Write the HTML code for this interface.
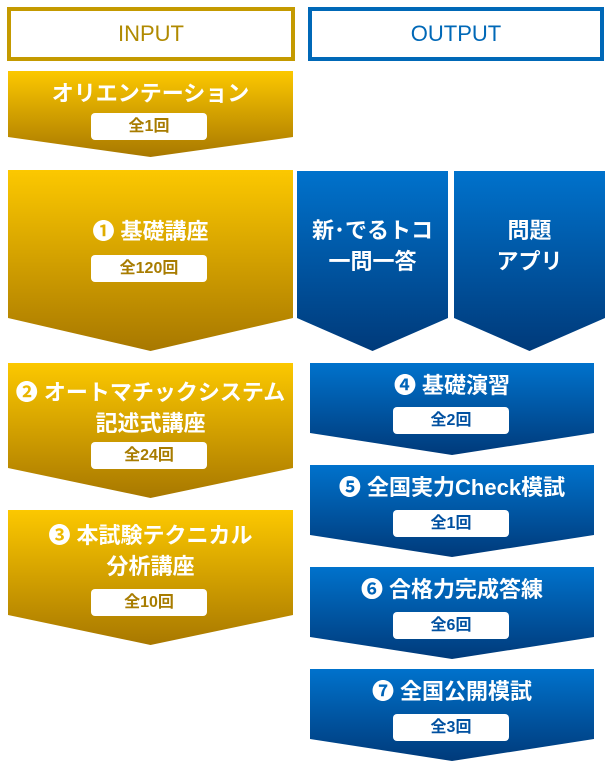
<!DOCTYPE html>
<html><head><meta charset="utf-8"><style>
body{margin:0;width:610px;height:765px;background:#fff;position:relative;overflow:hidden;font-family:"Liberation Sans","Noto Sans CJK JP",sans-serif}
.h{position:absolute;box-sizing:border-box;border:4px solid;height:54px;top:7px;text-align:center;line-height:46px;font-size:22px;background:#fff}
.s{position:absolute}
.g{background:linear-gradient(#fcc800,#a87800)}
.b{background:linear-gradient(#0072cc,#003a7a)}
.t{position:absolute;left:0;right:0;text-align:center;color:#fff;font-weight:bold;font-size:22px;line-height:34px}
.m{line-height:31px}
.p{position:absolute;background:#fff;border-radius:4px;height:27px;width:116px;text-align:center;line-height:27px;font-weight:bold;font-size:16px}
.gp{color:#a87c00}.bp{color:#0050a0}
</style></head><body>
<div class="h" style="left:7px;width:288px;border-color:#c49a00;color:#b08a00">INPUT</div>
<div class="h" style="left:308px;width:296px;border-color:#0068b7;color:#0068b7">OUTPUT</div>

<div class="s g" style="left:8px;top:71px;width:285px;height:86px;clip-path:polygon(0 0,100% 0,100% 66px,50% 100%,0 66px)"><div class="t" style="top:6px">オリエンテーション</div><div class="p gp" style="left:83px;top:42px">全1回</div></div>

<div class="s g" style="left:8px;top:170px;width:285px;height:181px;clip-path:polygon(0 0,100% 0,100% 148px,50% 100%,0 148px)"><div class="t" style="top:45px">❶ 基礎講座</div><div class="p gp" style="left:83px;top:85px">全120回</div></div>

<div class="s g" style="left:8px;top:363px;width:285px;height:135px;clip-path:polygon(0 0,100% 0,100% 105px,50% 100%,0 105px)"><div class="t m" style="top:14px">❷ オートマチックシステム<br>記述式講座</div><div class="p gp" style="left:83px;top:79px">全24回</div></div>

<div class="s g" style="left:8px;top:510px;width:285px;height:135px;clip-path:polygon(0 0,100% 0,100% 105px,50% 100%,0 105px)"><div class="t m" style="top:10px">❸ 本試験テクニカル<br>分析講座</div><div class="p gp" style="left:83px;top:79px">全10回</div></div>

<div class="s b" style="left:297px;top:171px;width:151px;height:180px;clip-path:polygon(0 0,100% 0,100% 147px,50% 100%,0 147px)"><div class="t m" style="top:44px">新･でるトコ<br>一問一答</div></div>
<div class="s b" style="left:454px;top:171px;width:151px;height:180px;clip-path:polygon(0 0,100% 0,100% 147px,50% 100%,0 147px)"><div class="t m" style="top:44px">問題<br>アプリ</div></div>

<div class="s b" style="left:310px;top:363px;width:284px;height:92px;clip-path:polygon(0 0,100% 0,100% 70px,50% 100%,0 70px)"><div class="t" style="top:6px">❹ 基礎演習</div><div class="p bp" style="left:83px;top:44px">全2回</div></div>
<div class="s b" style="left:310px;top:465px;width:284px;height:92px;clip-path:polygon(0 0,100% 0,100% 70px,50% 100%,0 70px)"><div class="t" style="top:6px">❺ 全国実力Check模試</div><div class="p bp" style="left:83px;top:45px">全1回</div></div>
<div class="s b" style="left:310px;top:567px;width:284px;height:92px;clip-path:polygon(0 0,100% 0,100% 70px,50% 100%,0 70px)"><div class="t" style="top:6px">❻ 合格力完成答練</div><div class="p bp" style="left:83px;top:45px">全6回</div></div>
<div class="s b" style="left:310px;top:669px;width:284px;height:92px;clip-path:polygon(0 0,100% 0,100% 70px,50% 100%,0 70px)"><div class="t" style="top:6px">❼ 全国公開模試</div><div class="p bp" style="left:83px;top:45px">全3回</div></div>
</body></html>
